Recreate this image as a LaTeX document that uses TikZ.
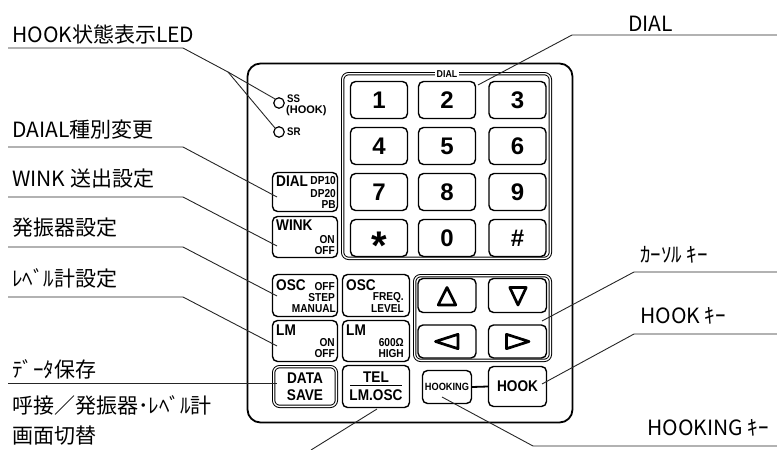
\documentclass[tikz,border=0pt]{standalone}
\usepackage{fontspec}
\setmainfont{Noto Sans CJK JP}
\newfontfamily\kf[FakeStretch=0.88]{Liberation Sans}
\newfontfamily\kd{Liberation Sans}
\usetikzlibrary{calc}
\begin{document}
\begin{tikzpicture}[x=1pt,y=-1pt,
  lbl/.style={font=\fontsize{21}{21}\selectfont, inner sep=0pt, anchor=base west},
  lead/.style={line width=0.9pt, draw=black!85},
  keybox/.style={draw, line width=1.4pt, rounded corners=5pt, inner sep=0pt},
  dblbox/.style={draw, line width=1pt, double, double distance=1.3pt, rounded corners=6pt, inner sep=0pt},
  kbig/.style={font=\kf\bfseries\fontsize{15.5}{15.5}\selectfont, inner sep=0pt},
  ksml/.style={font=\kf\bfseries\fontsize{11.5}{11.5}\selectfont, inner sep=0pt, anchor=east},
  kdig/.style={font=\kd\bfseries\fontsize{24}{24}\selectfont, inner sep=0pt},
  tri/.style={line width=2.7pt, line join=round},
  led/.style={draw, circle, line width=1.2pt, minimum size=10.5pt, inner sep=0pt}
]
\useasboundingbox (0,0) rectangle (777,450);

% panel
\node[draw, line width=1.8pt, rounded corners=13pt, minimum width=325pt, minimum height=359pt, inner sep=0pt] (panel) at (410,243) {};

% LEDs
\node[led] (ledss) at (279,103) {};
\node[led] (ledsr) at (279,132) {};
\node[font=\kf\bfseries\fontsize{11}{11}\selectfont, inner sep=0pt, anchor=west] (tss) at (287,99) {SS};
\node[font=\kd\bfseries\fontsize{11}{11}\selectfont, inner sep=0pt, anchor=west] (thook) at (286,111) {(HOOK)};
\node[font=\kf\bfseries\fontsize{11}{11}\selectfont, inner sep=0pt, anchor=west] (tsr) at (287,132) {SR};

% DIAL group
\node[dblbox, minimum width=207.7pt, minimum height=184.7pt] (gdial) at (446.5,166) {};
\node[fill=white, inner xsep=1.5pt, inner ysep=0.5pt, font=\kf\bfseries\fontsize{10}{10}\selectfont] (gdiallbl) at (447,73.6) {DIAL};

% digit keys
\node[keybox, kdig, minimum width=57pt, minimum height=37pt] (k1) at (379,100) {1};
\node[keybox, kdig, minimum width=57pt, minimum height=37pt] (k2) at (447,100) {2};
\node[keybox, kdig, minimum width=57pt, minimum height=37pt] (k3) at (517.5,100) {3};
\node[keybox, kdig, minimum width=57pt, minimum height=37pt] (k4) at (379,146) {4};
\node[keybox, kdig, minimum width=57pt, minimum height=37pt] (k5) at (447,146) {5};
\node[keybox, kdig, minimum width=57pt, minimum height=37pt] (k6) at (517.5,146) {6};
\node[keybox, kdig, minimum width=57pt, minimum height=37pt] (k7) at (379,192) {7};
\node[keybox, kdig, minimum width=57pt, minimum height=37pt] (k8) at (447,192) {8};
\node[keybox, kdig, minimum width=57pt, minimum height=37pt] (k9) at (517.5,192) {9};
\node[keybox, minimum width=57pt, minimum height=37pt] (kst) at (379,238) {};
\node[font=\kd\bfseries\fontsize{40}{40}\selectfont, inner sep=0pt, anchor=base] (kstt) at (379,259.5) {*};
\node[keybox, kdig, minimum width=57pt, minimum height=37pt] (k0) at (447,238) {0};
\node[keybox, kdig, minimum width=57pt, minimum height=37pt] (ksh) at (517.5,238) {\#};

% left function keys
\node[keybox, minimum width=65pt, minimum height=39pt] (kdial) at (305,192) {};
\node[kbig, anchor=west] (tdial) at (276,181) {DIAL};
\node[ksml] (tdp10) at (336,181) {DP10};
\node[ksml] (tdp20) at (336,193.5) {DP20};
\node[ksml] (tpb) at (336,204.5) {PB};

\node[keybox, minimum width=65pt, minimum height=41pt] (kwink) at (305,237) {};
\node[kbig, anchor=west] (twink) at (276,225) {WINK};
\node[ksml] (twon) at (335,240) {ON};
\node[ksml] (twoff) at (335,251) {OFF};

\node[keybox, minimum width=65pt, minimum height=42pt] (kosc) at (305,295.5) {};
\node[kbig, anchor=west] (tosc) at (276,285) {OSC};
\node[ksml] (tooff) at (335,286.5) {OFF};
\node[ksml] (tstep) at (335,297.5) {STEP};
\node[ksml] (tman) at (336,308.5) {MANUAL};

\node[keybox, minimum width=67pt, minimum height=42pt] (kfreq) at (376,295.5) {};
\node[kbig, anchor=west] (tosc2) at (346,285) {OSC};
\node[ksml] (tfreq) at (404,297.5) {FREQ.};
\node[ksml] (tlevel) at (404,308.5) {LEVEL};

\node[keybox, minimum width=65pt, minimum height=41pt] (klm) at (305,341) {};
\node[kbig, anchor=west] (tlm) at (276,330) {LM};
\node[ksml] (tlon) at (335,343) {ON};
\node[ksml] (tloff) at (335,354) {OFF};

\node[keybox, minimum width=67pt, minimum height=41pt] (kimp) at (376,341) {};
\node[kbig, anchor=west] (tlm2) at (346,330) {LM};
\node[ksml] (t600) at (404,343) {600Ω};
\node[ksml] (thigh) at (404,354) {HIGH};

\node[dblbox, minimum width=62.7pt, minimum height=39.7pt] (ksave) at (305,386.5) {};
\node[kbig] (tdata) at (305,378) {DATA};
\node[kbig] (tsave) at (305,395) {SAVE};

\node[keybox, minimum width=67pt, minimum height=42pt] (ktel) at (376,386.5) {};
\node[kbig] (ttel) at (376,377.5) {TEL};
\draw[line width=1.3pt] (350,385.8) -- (402,385.8);
\node[kbig] (tlmosc) at (376,395.5) {LM.OSC};

% cursor group
\node[dblbox, minimum width=135.7pt, minimum height=84.7pt] (gcur) at (482.5,318) {};
\node[keybox, minimum width=58pt, minimum height=34pt] (kup) at (447,295.5) {};
\node[keybox, minimum width=58pt, minimum height=34pt] (kdn) at (517.5,295.5) {};
\node[keybox, minimum width=58pt, minimum height=33pt] (klt) at (447,341.5) {};
\node[keybox, minimum width=58pt, minimum height=33pt] (krt) at (517.5,341.5) {};
\draw[tri] (447,287.5) -- (455.8,305) -- (438.2,305) -- cycle;
\draw[tri] (509.8,287.5) -- (526.2,287.5) -- (518,305) -- cycle;
\draw[tri] (435.5,341.5) -- (458,334.3) -- (458,348.7) -- cycle;
\draw[tri] (529,341.5) -- (506.5,334.3) -- (506.5,348.7) -- cycle;

% hook keys
\node[keybox, minimum width=49pt, minimum height=33pt, font=\kf\bfseries\fontsize{10.5}{10.5}\selectfont] (khooking) at (447,387) {HOOKING};
\node[keybox, minimum width=58pt, minimum height=40pt, kbig] (khook) at (517.5,386.5) {HOOK};
\draw[line width=1.8pt] (khooking.east) -- (khook.west);

% left labels
\node[lbl] (l1) at (12,42) {HOOK状態表示LED};
\node[lbl] (l2) at (12,137) {DAIAL種別変更};
\node[lbl] (l3) at (12,186) {WINK 送出設定};
\node[lbl] (l4) at (12,235) {発振器設定};
\node[lbl] (l5) at (12,286) {ﾚﾍﾞﾙ計設定};
\node[lbl] (l6) at (12,377) {ﾃﾞｰﾀ保存};
\node[lbl] (l7) at (12,413) {呼接／発振器･ﾚﾍﾞﾙ計};
\node[lbl] (l8) at (12,443) {画面切替};
% right labels
\node[lbl] (r1) at (628,31) {DIAL};
\node[lbl] (r2) at (640,262) {ｶｰｿﾙ ｷｰ};
\node[lbl] (r3) at (640,323) {HOOK ｷｰ};
\node[lbl] (r4) at (647,435) {HOOKING ｷｰ};

% leader coordinates
\coordinate (a1) at (8,48);   \coordinate (b1) at (183,48);  \coordinate (j1) at (228,72);
\coordinate (a2) at (8,147);  \coordinate (b2) at (183,147); \coordinate (p2) at (277,197);
\coordinate (a3) at (8,197);  \coordinate (b3) at (183,197); \coordinate (p3) at (277,246);
\coordinate (a4) at (8,247);  \coordinate (b4) at (183,247); \coordinate (p4) at (277,296);
\coordinate (a5) at (8,297);  \coordinate (b5) at (183,297); \coordinate (p5) at (277,346);
\coordinate (a6) at (8,383);  \coordinate (p6) at (277,383);
\coordinate (p7) at (377,409); \coordinate (e7) at (311,450);
\coordinate (ra1) at (777,35);  \coordinate (rb1) at (572,35);  \coordinate (rp1) at (478,85);
\coordinate (ra2) at (777,272); \coordinate (rb2) at (634,272); \coordinate (rp2) at (542,321);
\coordinate (ra3) at (777,334); \coordinate (rb3) at (634,334); \coordinate (rp3) at (542,384);
\coordinate (ra4) at (777,446); \coordinate (rb4) at (533,446); \coordinate (rp4) at (442,397);

\draw[lead] (a1) -- (b1) -- (j1) -- (ledss.north west);
\draw[lead] (j1) -- (ledsr.north west);
\draw[lead] (a2) -- (b2) -- (p2);
\draw[lead] (a3) -- (b3) -- (p3);
\draw[lead] (a4) -- (b4) -- (p4);
\draw[lead] (a5) -- (b5) -- (p5);
\draw[lead] (a6) -- (p6);
\draw[lead] (p7) -- (e7);
\draw[lead] (ra1) -- (rb1) -- (rp1);
\draw[lead] (ra2) -- (rb2) -- (rp2);
\draw[lead] (ra3) -- (rb3) -- (rp3);
\draw[lead] (ra4) -- (rb4) -- (rp4);
\end{tikzpicture}
\end{document}
